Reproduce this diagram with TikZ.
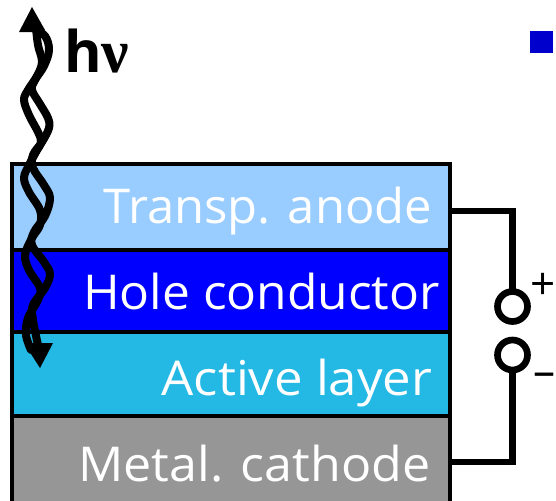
\documentclass[tikz,border=0pt]{standalone}
\usepackage{fontspec}
\usepackage{graphicx}
\setmainfont{Open Sans}
\newfontfamily\greekf{Liberation Serif}
\definecolor{lanode}{RGB}{153,204,255}
\definecolor{lhole}{RGB}{0,0,255}
\definecolor{lactive}{RGB}{36,184,228}
\definecolor{lcath}{RGB}{150,150,150}
\definecolor{bullet}{RGB}{0,0,204}
\tikzset{
  layertext/.style={text=white,anchor=base east,inner sep=0pt,font=\fontsize{36}{36}\selectfont},
  wire/.style={line width=5pt,line cap=butt,line join=miter},
  term/.style={circle,draw=black,line width=5pt,fill=white,minimum size=22.5pt,inner sep=0pt,outer sep=0pt},
  strand/.style={line width=6pt,line cap=round,line join=round},
  sign/.style={inner sep=0pt,font=\fontsize{33}{33}\selectfont}
}
\begin{document}
\begin{tikzpicture}[x=0.75pt,y=-0.75pt]
\useasboundingbox (0,0) rectangle (556,500);
\fill[white] (0,0) rectangle (556,500);
\begin{scope}
\clip (0,0) rectangle (556,500);
\fill[lanode] (12,164) rectangle (450,250);
\fill[lhole] (12,250) rectangle (450,332);
\fill[lactive] (12,332) rectangle (450,416);
\fill[lcath] (12,416) rectangle (450,510);
\draw[line width=2.4pt] (12,510) -- (12,164) -- (450,164) -- (450,510);
\draw[line width=2.4pt] (12,250) -- (450,250) (12,332) -- (450,332) (12,416) -- (450,416);
\end{scope}
\node[layertext] (t1) at (432.5,223) {\scalebox{1.02}[1]{Transp. anode}};
\node[layertext] (t2) at (440,309) {\scalebox{1.035}[1]{Hole conductor}};
\node[layertext] (t3) at (432.5,395) {\scalebox{1.06}[1]{Active layer}};
\node[layertext] (t4) at (430.5,481) {\scalebox{1.045}[1]{Metal. cathode}};
\coordinate (ca) at (450,211);
\coordinate (cc) at (450,462);
\node[term] (tp) at (512.5,306.5) {};
\node[term] (tm) at (512.5,355) {};
\draw[wire] (ca) -- (512.5,211) -- (tp.north);
\draw[wire] (cc) -- (512.5,462) -- (tm.south);
\node[sign] (plus) at (543.5,286) {+};
\node[sign] (minus) at (544.5,380) {–};
\fill[bullet] (530,31) rectangle (552.5,52.5);
\node[inner sep=0pt,anchor=base west,font=\fontsize{43}{43}\bfseries\selectfont] (hv) at (64,72) {h{\greekf\fontsize{46}{46}\selectfont\bfseries ν}};
% wavy arrow
\draw[strand] plot[smooth,tension=0.6] coordinates {(36,28)(38,45)(42,62)(37,76)(28,90)(24,100)(29,115)(38,132)(41,142)(36,152)(29,165)(24,178)(29,192)(40,210)(40,225)(32,238)(25,255)(29,270)(40,288)(38,300)(28,318)(26,335)(31,350)};
\draw[strand] plot[smooth,tension=0.6] coordinates {(33,28)(45,36)(49,50)(44,66)(35,80)(32,90)(40,104)(48,118)(49,128)(42,142)(33,155)(33,168)(44,185)(50,198)(45,216)(34,232)(32,245)(44,262)(50,274)(45,288)(33,305)(33,320)(38,345)};
\fill (32,7) -- (45,30) -- (36,32) -- (19,32) -- cycle;
\fill (24,343) -- (53,343) -- (40,368) -- cycle;
\end{tikzpicture}
\end{document}
